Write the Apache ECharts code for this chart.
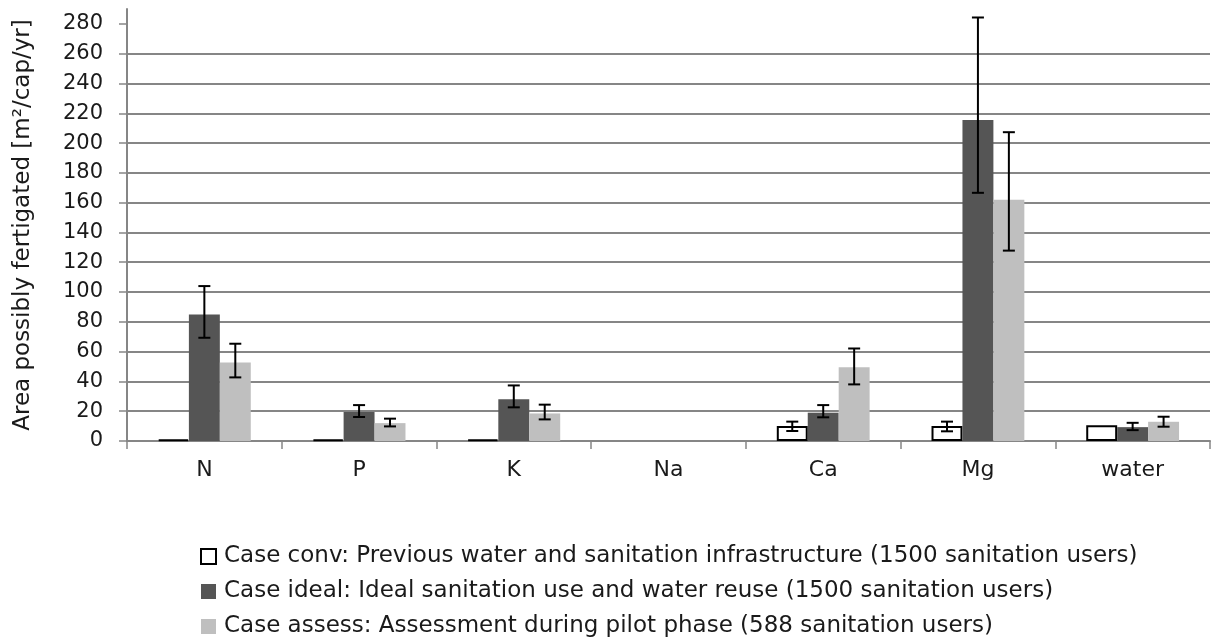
<!DOCTYPE html>
<html>
<head>
<meta charset="utf-8">
<script src="https://cdn.jsdelivr.net/npm/echarts@6/dist/echarts.min.js"></script>
<style>html,body{margin:0;padding:0;background:#fff;}#c{width:1211px;height:644px;}</style>
</head>
<body>
<div id="c"></div>
<script>
const categories = ['N', 'P', 'K', 'Na', 'Ca', 'Mg', 'water'];
const yTicks = [0, 20, 40, 60, 80, 100, 120, 140, 160, 180, 200, 220, 240, 260, 280];
const seriesNames = [
  'Case conv: Previous water and sanitation infrastructure (1500 sanitation users)',
  'Case ideal: Ideal sanitation use and water reuse (1500 sanitation users)',
  'Case assess: Assessment during pilot phase (588 sanitation users)'
];
const conv = [1, 1, 1, null, 10, 10, 10.5];
const convLow = [null, null, null, null, 6.7, 6.5, null];
const convHigh = [null, null, null, null, 13, 13, null];
const ideal = [85, 19.5, 28, null, 19, 215.5, 9.3];
const idealLow = [69.3, 16.1, 22.6, null, 15.9, 166.6, 7.3];
const idealHigh = [104, 24.1, 37.3, null, 24.1, 284.3, 12.2];
const assess = [52.7, 12, 18.5, null, 49.5, 162, 12.9];
const assessLow = [42.7, 9.8, 14.5, null, 38, 127.8, 9.6];
const assessHigh = [65.3, 15, 24.4, null, 62.1, 207.3, 16.3];

const FONT = '"DejaVu Sans", "Liberation Sans", Arial, sans-serif';
const TXT = '#1a1a1a';
const chart = echarts.init(document.getElementById('c'));

function errData(low, high) {
  const out = [];
  for (let i = 0; i < categories.length; i++) {
    if (low[i] != null && high[i] != null) out.push([i, low[i], high[i]]);
  }
  return out;
}
function errSeries(low, high, slot) {
  return {
    type: 'custom',
    silent: true,
    z: 10,
    data: errData(low, high),
    renderItem: function (params, api) {
      const i = api.value(0);
      const lo = api.coord([i, api.value(1)]);
      const hi = api.coord([i, api.value(2)]);
      const catW = api.size([1, 0])[0];
      const bw = catW * 0.6 / 3;
      const x = lo[0] + (slot - 1) * bw;
      const cap = 6;
      const style = { stroke: '#000', lineWidth: 2 };
      return {
        type: 'group',
        children: [
          { type: 'line', shape: { x1: x, y1: lo[1], x2: x, y2: hi[1] }, style: style },
          { type: 'line', shape: { x1: x - cap, y1: lo[1], x2: x + cap, y2: lo[1] }, style: style },
          { type: 'line', shape: { x1: x - cap, y1: hi[1], x2: x + cap, y2: hi[1] }, style: style }
        ]
      };
    }
  };
}

chart.setOption({
  animation: false,
  backgroundColor: '#fff',
  textStyle: { fontFamily: FONT },
  grid: { left: 127, right: 1, top: 9, bottom: 203, containLabel: false, outerBoundsMode: 'none' },
  legend: {
    orient: 'vertical',
    left: 200,
    top: 545,
    padding: 0,
    itemWidth: 15,
    itemHeight: 15,
    itemGap: 12,
    icon: 'rect',
    data: seriesNames,
    textStyle: { fontFamily: FONT, fontSize: 23, lineHeight: 23, color: TXT, padding: [0, 0, 0, 3] }
  },
  xAxis: {
    type: 'category',
    data: categories,
    axisLine: { lineStyle: { color: '#868686', width: 2 } },
    axisTick: { show: true, length: 8, lineStyle: { color: '#868686', width: 1.5 } },
    axisLabel: { fontFamily: FONT, fontSize: 22, color: TXT, margin: 18 }
  },
  yAxis: {
    type: 'value',
    min: 0,
    max: 290,
    interval: 20,
    name: 'Area possibly fertigated [m²/cap/yr]',
    nameLocation: 'middle',
    nameGap: 92,
    nameTextStyle: { fontFamily: FONT, fontSize: 23, color: TXT },
    axisLine: { show: true, lineStyle: { color: '#868686', width: 2 } },
    axisTick: { show: true, length: 8, lineStyle: { color: '#868686', width: 1.5 }, customValues: yTicks },
    axisLabel: { fontFamily: FONT, fontSize: 21, color: TXT, margin: 24, customValues: yTicks },
    splitLine: { show: true, showMaxLine: false, lineStyle: { color: '#868686', width: 2 } }
  },
  series: [
    {
      name: seriesNames[0], type: 'bar', data: conv,
      barGap: '0%', barCategoryGap: '40%',
      itemStyle: { color: '#ffffff', borderColor: '#000000', borderWidth: 2 }
    },
    {
      name: seriesNames[1], type: 'bar', data: ideal,
      itemStyle: { color: '#555555' }
    },
    {
      name: seriesNames[2], type: 'bar', data: assess,
      itemStyle: { color: '#bfbfbf' }
    },
    errSeries(convLow, convHigh, 0),
    errSeries(idealLow, idealHigh, 1),
    errSeries(assessLow, assessHigh, 2)
  ]
});
</script>
</body>
</html>
